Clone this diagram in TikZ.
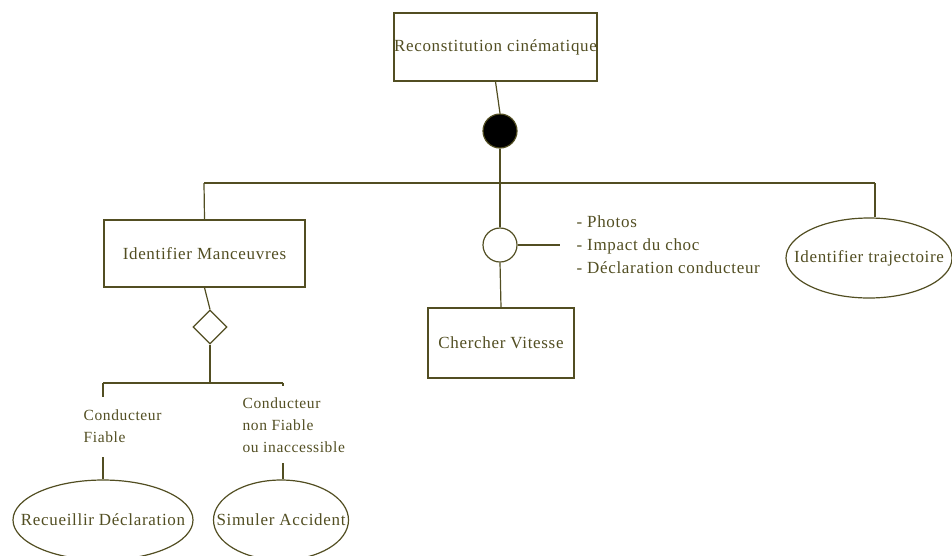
\documentclass[tikz,border=0pt]{standalone}
\usepackage{fontspec}
\setmainfont[LetterSpace=4]{Liberation Serif}
\usetikzlibrary{shapes.geometric}
\definecolor{olivedark}{RGB}{82,78,34}

\begin{document}
\begin{tikzpicture}[x=1pt, y=-1pt, line width=1.2pt, draw=olivedark, text=olivedark,
		box/.style={draw, rectangle, inner sep=0pt, font=\fontsize{17}{23}\selectfont},
		oval/.style={draw, ellipse, inner sep=0pt, font=\fontsize{17}{23}\selectfont},
		lbl/.style={inner sep=0pt, align=left, font=\fontsize{15.5}{22}\selectfont}]
				\useasboundingbox (0, 0) rectangle (952, 555);
				%%%%% TOP %%%%%
				
				\node[box, minimum width=203, minimum height=68] (recon) at (495.5, 47) {Reconstitution cinématique};
				\node[draw, circle, fill=black, minimum size=34, inner sep=0pt] (andpt) at (500, 131) {};
				\draw (recon.south) -- (andpt.north);
				
				\coordinate (barL) at (204, 183);
				\coordinate (barM) at (500, 183);
				\coordinate (barR) at (875, 183);
				\draw (andpt.south) -- (barM);
				\draw (barL) -- (barR);
				
				%%%%% MIDDLE %%%%%
				\node[box, minimum width=201, minimum height=67] (manoeuvres) at (204.5, 253.5) {Identifier Manceuvres};
				\draw (barL) -- (manoeuvres.north);
				
				\node[draw, circle, minimum size=34, inner sep=0pt] (orpt) at (500, 245) {};
				\draw (barM) -- (orpt.north);
				\node[box, minimum width=146, minimum height=70] (vitesse) at (501, 343) {Chercher Vitesse};
				\draw (orpt.south) -- (vitesse.north);
				\coordinate (spoke) at (560, 245);
				\draw (orpt.east) -- (spoke);
				\node[lbl, anchor=west, font=\fontsize{17}{23}\selectfont] (sources) at (576, 245) {- Photos\\- Impact du choc\\- Déclaration conducteur};
				
				\node[oval, minimum width=166, minimum height=80] (traj) at (869, 258) {\makebox[0pt]{Identifier trajectoire}};
				\draw (barR) -- (barR |- traj.north);
				
				%%%%% BOTTOM %%%%%
				\node[draw, diamond, aspect=1, minimum width=34, minimum height=34, inner sep=0pt] (xorpt) at (210, 327) {};
				\draw (manoeuvres.south) -- (xorpt.north);
				
				\coordinate (subL) at (103, 383);
				\coordinate (subM) at (210, 383);
				\coordinate (subR) at (283, 383);
				\draw (xorpt.south) -- (subM);
				\draw (subL) -- (subR);
				\coordinate (subLend) at (103, 397);
				\coordinate (subRend) at (283, 386);
				\draw (subL) -- (subLend);
				\draw (subR) -- (subRend);
				
				\node[lbl, anchor=west] (fiable) at (83, 426) {Conducteur\\Fiable};
				\node[lbl, anchor=west] (nonfiable) at (242, 425) {Conducteur\\non Fiable\\ou inaccessible};
				
				\node[oval, minimum width=180, minimum height=80] (recueil) at (103, 520) {\makebox[0pt]{Recueillir Déclaration}};
				\node[oval, minimum width=135, minimum height=80] (simuler) at (281, 520) {\makebox[0pt]{Simuler Accident}};
				\coordinate (recueilTop) at (103, 457);
				\coordinate (simulerTop) at (283, 463);
				\draw (recueilTop) -- (recueil.north);
				\draw (simulerTop) -- (simulerTop |- simuler.north);
				%%%%% END %%%%%
			\end{tikzpicture}
\end{document}
